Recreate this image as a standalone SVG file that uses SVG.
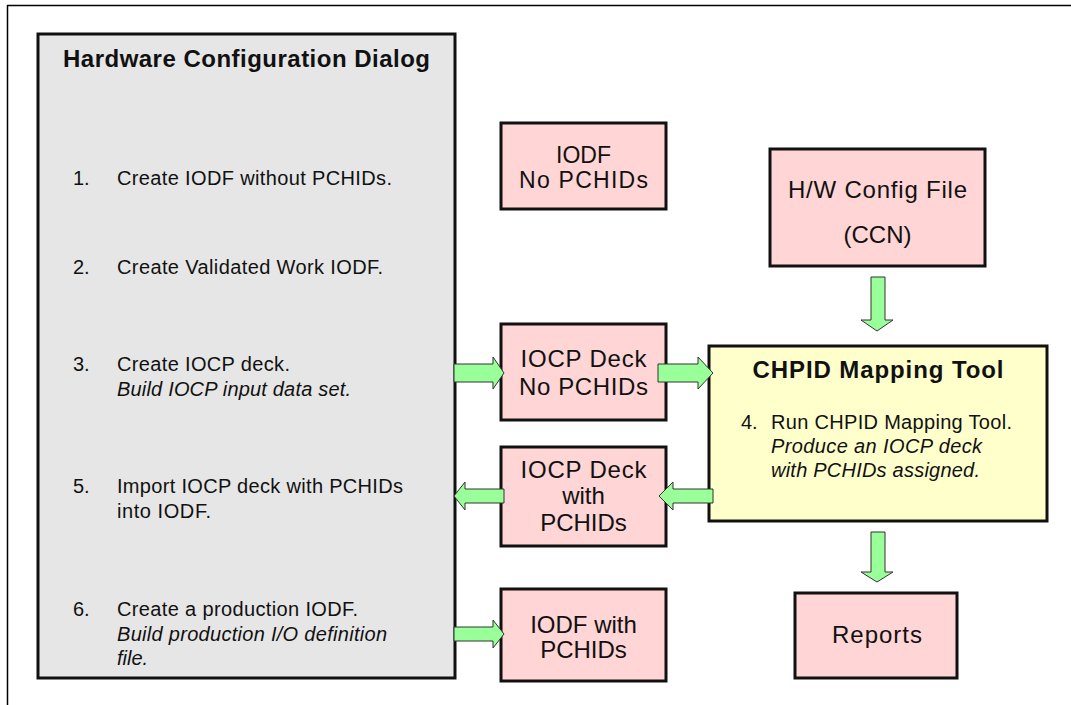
<svg xmlns="http://www.w3.org/2000/svg" width="1071" height="705" viewBox="0 0 1071 705">
  <style>
    text { font-family: "Liberation Sans", Arial, sans-serif; fill: #111; }
    .frame { stroke: #000; stroke-width: 1.5; fill: none; }
    .panel { fill: #e6e6e6; stroke: #111; stroke-width: 3; }
    .file { fill: #ffd5d5; stroke: #111; stroke-width: 3; }
    .tool { fill: #ffffcc; stroke: #111; stroke-width: 3; }
    .arrow { fill: #99ff99; stroke: #333; stroke-width: 1; stroke-linejoin: miter; }
    .title { font-size: 24px; font-weight: bold; }
    .step { font-size: 20px; }
    .note { font-size: 20px; font-style: italic; }
    .label { font-size: 24px; text-anchor: middle; }
  </style>

  <!-- page frame -->
  <g id="frame">
    <line class="frame" x1="7" y1="5.5" x2="1071" y2="5.5"/>
    <line class="frame" x1="7.5" y1="5" x2="7.5" y2="705"/>
  </g>

  <!-- HCD panel with steps -->
  <g id="hcd">
    <rect class="panel" x="38" y="34" width="417" height="644"/>
    <text class="title" x="63" y="67" textLength="367">Hardware Configuration Dialog</text>
    <text class="step" x="73" y="185">1.</text>
    <text class="step" x="117" y="185" textLength="275">Create IODF without PCHIDs.</text>
    <text class="step" x="73" y="274">2.</text>
    <text class="step" x="117" y="274" textLength="266">Create Validated Work IODF.</text>
    <text class="step" x="73" y="371">3.</text>
    <text class="step" x="117" y="371" textLength="173">Create IOCP deck.</text>
    <text class="note" x="117" y="396" textLength="234">Build IOCP input data set.</text>
    <text class="step" x="73" y="493">5.</text>
    <text class="step" x="117" y="493" textLength="286">Import IOCP deck with PCHIDs</text>
    <text class="step" x="117" y="518" textLength="94">into IODF.</text>
    <text class="step" x="73" y="616">6.</text>
    <text class="step" x="117" y="616" textLength="241">Create a production IODF.</text>
    <text class="note" x="117" y="641" textLength="270">Build production I/O definition</text>
    <text class="note" x="117" y="665">file.</text>
  </g>

  <g id="iodf-no-pchids">
    <rect class="file" x="501" y="123" width="165" height="86"/>
    <text class="label" x="583.5" y="163" style="font-size:23px">IODF</text>
    <text class="label" x="583.5" y="188" style="font-size:23px" textLength="129">No PCHIDs</text>
  </g>

  <g id="hw-config-file">
    <rect class="file" x="770" y="149" width="215" height="117"/>
    <text class="label" x="877.5" y="198" textLength="179">H/W Config File</text>
    <text class="label" x="877.5" y="243">(CCN)</text>
  </g>

  <g id="iocp-no-pchids">
    <rect class="file" x="501" y="324" width="165" height="96"/>
    <text class="label" x="583.5" y="367" textLength="126">IOCP Deck</text>
    <text class="label" x="583.5" y="395" textLength="129">No PCHIDs</text>
  </g>

  <g id="chpid-mapping-tool">
    <rect class="tool" x="709" y="346" width="338" height="175"/>
    <text class="title" x="878" y="378" text-anchor="middle" textLength="251">CHPID Mapping Tool</text>
    <text class="step" x="741" y="429">4.</text>
    <text class="step" x="771" y="429" textLength="241">Run CHPID Mapping Tool.</text>
    <text class="note" x="771" y="453" textLength="211">Produce an IOCP deck</text>
    <text class="note" x="771" y="477" textLength="209">with PCHIDs assigned.</text>
  </g>

  <g id="iocp-with-pchids">
    <rect class="file" x="501" y="447" width="165" height="99"/>
    <text class="label" x="583.5" y="478" textLength="126">IOCP Deck</text>
    <text class="label" x="583.5" y="504">with</text>
    <text class="label" x="583.5" y="531">PCHIDs</text>
  </g>

  <g id="iodf-with-pchids">
    <rect class="file" x="501" y="589" width="165" height="92"/>
    <text class="label" x="583.5" y="633">IODF with</text>
    <text class="label" x="583.5" y="658">PCHIDs</text>
  </g>

  <g id="reports">
    <rect class="file" x="795" y="593" width="162" height="85"/>
    <text class="label" x="877" y="643" textLength="90">Reports</text>
  </g>

  <!-- block arrows between steps -->
  <g id="connectors">
    <polygon class="arrow" points="454,364 493,364 493,357 504,373 493,389 493,382 454,382"/>
    <polygon class="arrow" points="658,364 698,364 698,357 713,373 698,389 698,382 658,382"/>
    <polygon class="arrow" points="713,489 673,489 673,482 659,496 673,510 673,503 713,503"/>
    <polygon class="arrow" points="504,489 465,489 465,482 454,496 465,510 465,503 504,503"/>
    <polygon class="arrow" points="454,627 493,627 493,620 504,634 493,648 493,641 454,641"/>
    <polygon class="arrow" points="871,277 885,277 885,320 893,320 877,331 861,320 871,320"/>
    <polygon class="arrow" points="871,532 885,532 885,572 893,572 877,582 861,572 871,572"/>
  </g>
</svg>
